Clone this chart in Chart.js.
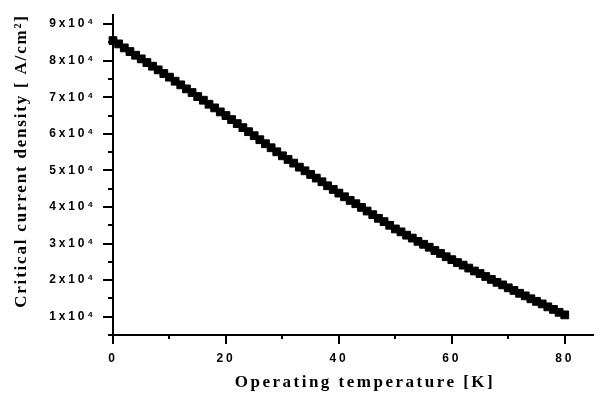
<!DOCTYPE html>
<html>
<head>
<meta charset="utf-8">
<script src="https://cdn.jsdelivr.net/npm/chart.js@4/dist/chart.umd.min.js"></script>
<style>
  html, body { margin: 0; padding: 0; background: #fff; }
  #wrap { width: 600px; height: 405px; }
</style>
</head>
<body>
<div id="wrap"><canvas id="c" width="600" height="405"></canvas></div>
<script>
// Operating temperature [K]
const temperatures = [
  0, 1, 2, 3, 4, 5, 6, 7, 8, 9,
  10, 11, 12, 13, 14, 15, 16, 17, 18, 19,
  20, 21, 22, 23, 24, 25, 26, 27, 28, 29,
  30, 31, 32, 33, 34, 35, 36, 37, 38, 39,
  40, 41, 42, 43, 44, 45, 46, 47, 48, 49,
  50, 51, 52, 53, 54, 55, 56, 57, 58, 59,
  60, 61, 62, 63, 64, 65, 66, 67, 68, 69,
  70, 71, 72, 73, 74, 75, 76, 77, 78, 79,
  80
];
// Critical current density [A/cm²]
const currentDensity = [
  85500, 84600, 83500, 82500, 81500, 80500, 79500, 78500, 77500, 76500,
  75500, 74400, 73400, 72300, 71300, 70200, 69200, 68100, 67100, 66000,
  65000, 63900, 62800, 61700, 60600, 59500, 58400, 57300, 56200, 55100,
  54000, 53000, 52000, 50900, 49900, 48900, 47900, 46900, 45800, 44800,
  43800, 42800, 41800, 40900, 39900, 38900, 37900, 36900, 36000, 35000,
  34000, 33200, 32300, 31500, 30600, 29800, 29000, 28100, 27300, 26400,
  25600, 24800, 24100, 23300, 22500, 21800, 21000, 20200, 19400, 18700,
  17900, 17200, 16400, 15700, 14900, 14200, 13500, 12700, 12000, 11200,
  10500
];
const xMajorTicks = [0, 20, 40, 60, 80];
const xMinorTicks = [0, 10, 20, 30, 40, 50, 60, 70, 80];
const yMajorTicks = [10000, 20000, 30000, 40000, 50000, 60000, 70000, 80000, 90000];
const yMinorTicks = [5000, 10000, 15000, 20000, 25000, 30000, 35000, 40000, 45000,
                     50000, 55000, 60000, 65000, 70000, 75000, 80000, 85000, 90000];
const xTitle = 'Operating temperature [K]';
const yTitle = 'Critical current density [ A/cm²]';

const points = temperatures.map((t, i) => ({ x: t, y: currentDensity[i] }));

// letter spacing like the original typesetting (per text element)
function wrapDraw(scale, name, spacing, dx, dy) {
  const orig = scale[name];
  scale[name] = function (...args) {
    const ctx = this.ctx;
    ctx.save();
    ctx.letterSpacing = spacing;
    ctx.translate(dx, dy);
    orig.apply(this, args);
    ctx.restore();
  };
}
const spacingPlugin = {
  id: 'letterSpacing',
  beforeUpdate(chart) { chart.ctx.letterSpacing = '2.5px'; },
  afterLayout(chart) {
    if (chart.$spacingDone) return;
    chart.$spacingDone = true;
    wrapDraw(chart.scales.x, 'drawLabels', '2.8px', 0, 0);
    wrapDraw(chart.scales.y, 'drawLabels', '2.8px', 0, 0);
    wrapDraw(chart.scales.x, 'drawTitle', '2.5px', 12, 0);
    wrapDraw(chart.scales.y, 'drawTitle', '1.8px', 0, -14);
  }
};

const tickFont = { family: '"Liberation Sans", Arial, sans-serif', weight: 'bold', size: 12 };
const titleFont = { family: '"Liberation Serif", "Times New Roman", serif', weight: 'bold', size: 17 };

new Chart(document.getElementById('c'), {
  type: 'scatter',
  data: {
    datasets: [{
      data: points,
      xAxisID: 'x',
      yAxisID: 'y',
      pointStyle: 'rect',
      pointRadius: 5.5,
      pointBorderWidth: 1,
      pointBackgroundColor: '#000',
      pointBorderColor: '#000',
      showLine: false,
      clip: false
    }]
  },
  options: {
    responsive: false,
    animation: false,
    events: [],
    layout: { padding: { top: 15, right: 7, left: 0, bottom: 0 } },
    plugins: { legend: { display: false }, tooltip: { enabled: false } },
    scales: {
      x: {
        type: 'linear', position: 'bottom', weight: 1,
        min: 0, max: 85,
        afterBuildTicks(scale) { scale.ticks = xMajorTicks.map(v => ({ value: v })); },
        afterFit(scale) { scale.height = 70; },
        border: { display: true, color: '#000', width: 2 },
        grid: { drawOnChartArea: false, drawTicks: true, tickLength: 9, color: '#000', lineWidth: 2 },
        ticks: { color: '#000', font: tickFont, padding: 7, maxRotation: 0, includeBounds: false,
                 callback: v => String(v) },
        title: { display: true, text: xTitle, color: '#000', font: titleFont, padding: { top: 0, bottom: 12 } }
      },
      xMinor: {
        type: 'linear', position: 'bottom', weight: 0,
        min: 0, max: 85,
        afterBuildTicks(scale) { scale.ticks = xMinorTicks.map(v => ({ value: v })); },
        afterFit(scale) { scale.height = 0; },
        border: { display: false },
        grid: { drawOnChartArea: false, drawTicks: true, tickLength: 4, color: '#000', lineWidth: 2 },
        ticks: { display: false }
      },
      y: {
        type: 'linear', position: 'left', weight: 1,
        min: 5000, max: 92500,
        afterBuildTicks(scale) { scale.ticks = yMajorTicks.map(v => ({ value: v })); },
        afterFit(scale) { scale.width = 113; },
        border: { display: true, color: '#000', width: 2 },
        grid: { drawOnChartArea: false, drawTicks: true, tickLength: 10, color: '#000', lineWidth: 2 },
        ticks: { color: '#000', font: tickFont, padding: 7,
                 callback: v => (v / 10000) + 'x10⁴' },
        title: { display: true, text: yTitle, color: '#000', font: titleFont, padding: { top: 11, bottom: 0 } }
      },
      yMinor: {
        type: 'linear', position: 'left', weight: 0,
        min: 5000, max: 92500,
        afterBuildTicks(scale) { scale.ticks = yMinorTicks.map(v => ({ value: v })); },
        afterFit(scale) { scale.width = 0; },
        border: { display: false },
        grid: { drawOnChartArea: false, drawTicks: true, tickLength: 5, color: '#000', lineWidth: 2 },
        ticks: { display: false }
      }
    }
  },
  plugins: [spacingPlugin]
});
</script>
</body>
</html>
